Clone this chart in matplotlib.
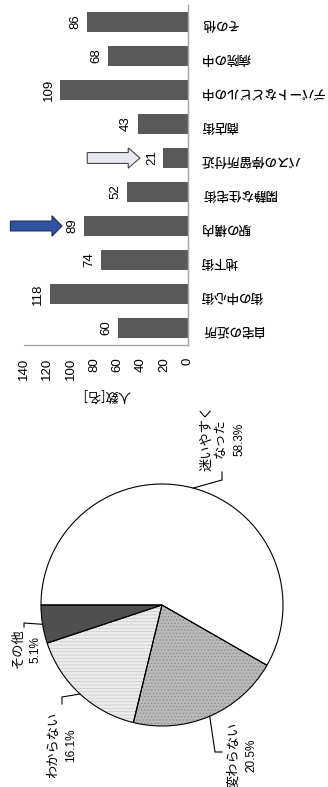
import matplotlib
matplotlib.use('Agg')
import matplotlib.pyplot as plt
from matplotlib.patches import FancyArrow
import numpy as np

# ---- data ----
categories = ['自宅の近所', '街の中心街', '地下街', '駅の構内', '閑静な住宅街',
              'バスの停留所付近', '商店街', 'デパートなどビルの中', '病院の中', 'その他']
counts = [60, 118, 74, 89, 52, 21, 43, 109, 68, 86]
value_ticks = [0, 20, 40, 60, 80, 100, 120, 140]
axis_label = '人数[名]'

pie_labels = ['その他', 'わからない', '変わらない', '迷いやすく\nなった']
pie_shares = [5.1, 16.1, 20.5, 58.3]

W, H = 328, 787
fig = plt.figure(figsize=(W / 100, H / 100), dpi=100)
plt.rcParams['hatch.linewidth'] = 0.6

JP = ['Noto Sans CJK JP', 'DejaVu Sans']
NUM = ['Liberation Sans', 'DejaVu Sans']


def frac(x0, y0, x1, y1):
    """pixel box (origin top-left) -> figure-fraction rect"""
    return [x0 / W, 1 - y1 / H, (x1 - x0) / W, (y1 - y0) / H]


# ---- bar chart (bars grow to the left, labels turned over) ----
ax = fig.add_axes(frac(24, 5, 188, 345))
y = np.arange(len(categories))
ax.barh(y, counts, height=0.6, color='#595959', zorder=2)
ax.set_xlim(140, 0)
ax.set_ylim(-0.5, len(categories) - 0.5)
ax.set_xticks(value_ticks)
ax.set_xticklabels([str(t) for t in value_ticks], rotation=90,
                   fontfamily=NUM, fontsize=9.5)
ax.yaxis.tick_right()
ax.set_yticks(y)
ax.set_yticklabels(categories, rotation=180, fontfamily=JP, fontsize=9,
                   fontweight='medium')
ax.tick_params(axis='both', length=0)
ax.tick_params(axis='x', pad=9)
ax.tick_params(axis='y', pad=9)
for s in ['top', 'left']:
    ax.spines[s].set_visible(False)
for s in ['bottom', 'right']:
    ax.spines[s].set_color('#a6a6a6')
    ax.spines[s].set_linewidth(1.0)
ax.set_xlabel(axis_label, rotation=180, fontfamily=JP, fontsize=9.5, labelpad=6)

for yi, v in zip(y, counts):
    ax.annotate(str(v), (v, yi), xytext=(-4, 0), textcoords='offset points',
                rotation=90, ha='right', va='center', fontfamily=NUM,
                fontsize=9.5)

# callout arrows next to two bars
i_station = categories.index('駅の構内')
tip = counts[i_station] + 18.6
ax.add_patch(FancyArrow(tip + 44, i_station, -44, 0, width=0.29, head_width=0.6,
                        head_length=8.5, length_includes_head=True,
                        facecolor='#3053a3', edgecolor='#1d2d5e', linewidth=0.8,
                        clip_on=False, zorder=3))
i_bus = categories.index('バスの停留所付近')
tip = counts[i_bus] + 20
ax.add_patch(FancyArrow(tip + 45, i_bus, -45, 0, width=0.32, head_width=0.6,
                        head_length=10, length_includes_head=True,
                        facecolor='#e6eaf3', edgecolor='#454545', linewidth=0.8,
                        clip_on=False, zorder=3))

# ---- pie chart ----
CX, CY, R = 162, 605, 121
pax = fig.add_axes(frac(CX - R, CY - R, CX + R, CY + R))

faces = ['#4f4f4f', '#ececec', '#bababa', 'white']
hatch_cols = ['#4f4f4f', '#cdcdcd', '#8e8e8e', 'white']
hatches = [None, '-----', '.....', None]
wedges, _ = pax.pie(pie_shares, startangle=180, counterclock=True,
                    colors=faces, wedgeprops=dict(linewidth=0))
for w, hc, ht in zip(wedges, hatch_cols, hatches):
    w.set_edgecolor(hc)
    if ht:
        w.set_hatch(ht)
outline, _ = pax.pie(pie_shares, startangle=180, counterclock=True,
                     colors=['none'] * 4,
                     wedgeprops=dict(edgecolor='black', linewidth=0.8))
pax.set_xlim(-1, 1)
pax.set_ylim(-1, 1)


def pxy(px, py):
    return ((px - CX) / R, (CY - py) / R)


leaders = [[(24, 623), (24, 627)],
           [(62, 697), (62, 704)],
           [(215, 752), (222, 752)],
           [(222, 480), (222, 472)]]
name_pos = [(18, 648), (54, 745), (234, 755), (214, 438)]
pct_pos = [(35, 650), (71, 745), (251, 755), (239, 439)]

for w, lab, share, bends, npos, ppos in zip(outline, pie_labels, pie_shares,
                                             leaders, name_pos, pct_pos):
    mid = np.deg2rad((w.theta1 + w.theta2) / 2)
    pts = [(np.cos(mid), np.sin(mid))] + [pxy(*b) for b in bends]
    xs, ys = zip(*pts)
    pax.plot(xs, ys, color='black', linewidth=0.8, clip_on=False)
    pax.text(*pxy(*npos), lab, rotation=90, ha='center', va='center',
             multialignment='center', fontfamily=JP, fontsize=9.5,
             linespacing=1.05, clip_on=False)
    pax.text(*pxy(*ppos), f'{share:.1f}%', rotation=90, ha='center',
             va='center', fontfamily=NUM, fontsize=8.5, clip_on=False)

fig.savefig('out.png', dpi=100)
